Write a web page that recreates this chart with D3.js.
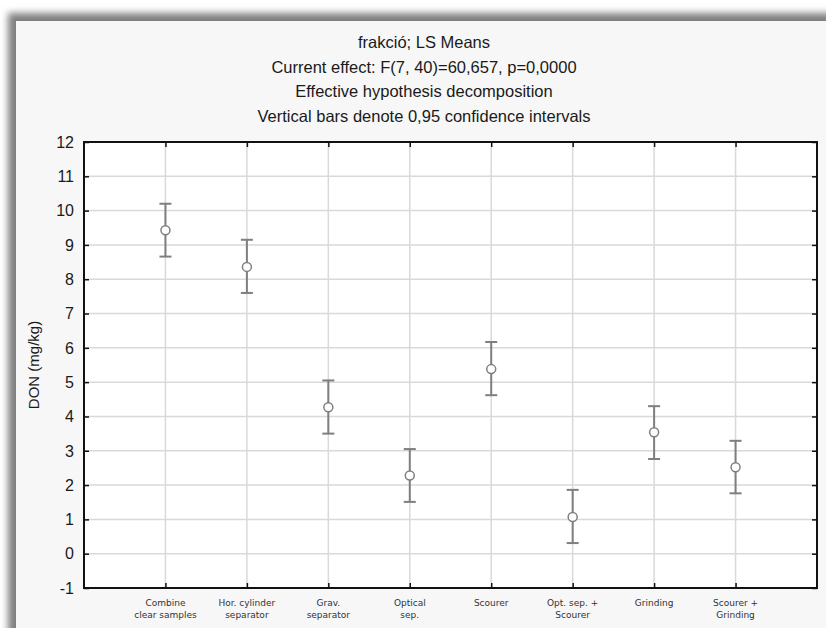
<!DOCTYPE html>
<html>
<head>
<meta charset="utf-8">
<script src="https://cdn.jsdelivr.net/npm/d3@7"></script>
<style>
body { margin: 0; background: #ffffff; }
svg { display: block; }
</style>
</head>
<body>
<svg id="chart"></svg>
<script>
// chart data
var categories = [
	["Combine", "clear samples"],
	["Hor. cylinder", "separator"],
	["Grav.", "separator"],
	["Optical", "sep."],
	["Scourer"],
	["Opt. sep. +", "Scourer"],
	["Grinding"],
	["Scourer +", "Grinding"]
]
var means = [9.43, 8.36, 4.27, 2.28, 5.38, 1.07, 3.54, 2.52]
var lower = [8.66, 7.6, 3.5, 1.51, 4.62, 0.31, 2.76, 1.76]
var upper = [10.2, 9.15, 5.05, 3.05, 6.17, 1.86, 4.3, 3.29]
var yTicks = [-1, 0, 1, 2, 3, 4, 5, 6, 7, 8, 9, 10, 11, 12]
var titleLines = [
	"frakció; LS Means",
	"Current effect: F(7, 40)=60,657, p=0,0000",
	"Effective hypothesis decomposition",
	"Vertical bars denote 0,95 confidence intervals"
]

var width = 826
var height = 628
var plot = { left: 84, right: 817, top: 142, bottom: 588 }

var svg = d3.select("#chart")
	.attr("width", width)
	.attr("height", height)

// panel with shadow on the top/left side
var defs = svg.append("defs")
var f = defs.append("filter").attr("id", "shadow")
	.attr("x", "-5%").attr("y", "-5%").attr("width", "110%").attr("height", "110%")
f.append("feGaussianBlur").attr("stdDeviation", 3.5)
svg.append("rect")
	.attr("x", 8).attr("y", 13)
	.attr("width", width).attr("height", height)
	.attr("fill", "#808080")
	.attr("filter", "url(#shadow)")
svg.append("rect")
	.attr("x", 16).attr("y", 21)
	.attr("width", width).attr("height", height)
	.attr("fill", "#f7f7f7")

// title
svg.append("g").selectAll("text").data(titleLines).enter().append("text")
	.attr("x", 424)
	.attr("y", (d, i) => 48 + i * 24.5)
	.attr("text-anchor", "middle")
	.attr("font-family", "Liberation Sans, Arial, sans-serif")
	.attr("font-size", "16.5px")
	.attr("fill", "#1a1a1a")
	.text(d => d)

var x = d3.scalePoint()
	.domain(d3.range(categories.length))
	.range([plot.left, plot.right])
	.padding(1)
var y = d3.scaleLinear()
	.domain([-1, 12])
	.range([plot.bottom, plot.top])

// plot area
svg.append("rect")
	.attr("x", plot.left).attr("y", plot.top)
	.attr("width", plot.right - plot.left)
	.attr("height", plot.bottom - plot.top)
	.attr("fill", "#ffffff")

// grid
var grid = svg.append("g")
	.attr("stroke", "#d9d9d9")
	.attr("stroke-width", 1.5)
grid.selectAll(".hg").data(yTicks.slice(1, -1)).enter().append("line")
	.attr("x1", plot.left).attr("x2", plot.right)
	.attr("y1", d => y(d)).attr("y2", d => y(d))
grid.selectAll(".vg").data(d3.range(categories.length)).enter().append("line")
	.attr("y1", plot.top).attr("y2", plot.bottom)
	.attr("x1", d => x(d)).attr("x2", d => x(d))

// axes, ticks inward
var axisFont = "Liberation Sans, Arial, sans-serif"
svg.append("g")
	.attr("transform", "translate(" + plot.left + ",0)")
	.call(d3.axisRight(y).tickValues(yTicks).tickSize(5).tickFormat(""))
svg.append("g")
	.attr("transform", "translate(" + plot.right + ",0)")
	.call(d3.axisLeft(y).tickValues(yTicks).tickSize(5).tickFormat(""))
svg.append("g")
	.attr("transform", "translate(0," + plot.bottom + ")")
	.call(d3.axisTop(x).tickSize(5).tickFormat(""))
svg.append("g")
	.attr("transform", "translate(0," + plot.top + ")")
	.call(d3.axisBottom(x).tickSize(5).tickFormat(""))
svg.selectAll(".domain").remove()
svg.selectAll(".tick line").attr("stroke", "#111").attr("stroke-width", 1.5)

svg.append("rect")
	.attr("x", plot.left).attr("y", plot.top)
	.attr("width", plot.right - plot.left)
	.attr("height", plot.bottom - plot.top)
	.attr("fill", "none")
	.attr("stroke", "#111")
	.attr("stroke-width", 2)

// y tick labels
svg.append("g").selectAll("text").data(yTicks).enter().append("text")
	.attr("x", 74)
	.attr("y", d => y(d))
	.attr("dy", "0.36em")
	.attr("text-anchor", "end")
	.attr("font-family", axisFont)
	.attr("font-size", "16px")
	.attr("fill", "#1a1a1a")
	.text(d => d)

// y axis title
svg.append("text")
	.attr("transform", "translate(39," + (plot.top + plot.bottom) / 2 + ") rotate(-90)")
	.attr("text-anchor", "middle")
	.attr("font-family", axisFont)
	.attr("font-size", "15px")
	.attr("fill", "#1a1a1a")
	.text("DON (mg/kg)")

// x category labels
var xl = svg.append("g").selectAll("text").data(categories).enter().append("text")
	.attr("x", (d, i) => x(i))
	.attr("y", 606)
	.attr("text-anchor", "middle")
	.attr("font-family", "DejaVu Sans, sans-serif")
	.attr("font-size", "9px")
	.attr("fill", "#333")
xl.selectAll("tspan").data(d => d).enter().append("tspan")
	.attr("x", function () { return d3.select(this.parentNode).attr("x") })
	.attr("dy", (d, i) => i === 0 ? 0 : 12)
	.text(d => d)

// error bars
var bars = svg.append("g")
	.attr("stroke", "#7f7f7f")
	.attr("stroke-width", 2)
	.attr("fill", "none")
var idx = d3.range(means.length)
bars.selectAll(".v").data(idx).enter().append("line")
	.attr("x1", i => x(i)).attr("x2", i => x(i))
	.attr("y1", i => y(upper[i])).attr("y2", i => y(lower[i]))
bars.selectAll(".cu").data(idx).enter().append("line")
	.attr("x1", i => x(i) - 6).attr("x2", i => x(i) + 6)
	.attr("y1", i => y(upper[i])).attr("y2", i => y(upper[i]))
bars.selectAll(".cl").data(idx).enter().append("line")
	.attr("x1", i => x(i) - 6).attr("x2", i => x(i) + 6)
	.attr("y1", i => y(lower[i])).attr("y2", i => y(lower[i]))
bars.selectAll("circle").data(idx).enter().append("circle")
	.attr("cx", i => x(i))
	.attr("cy", i => y(means[i]))
	.attr("r", 4.5)
	.attr("fill", "#ffffff")
	.attr("stroke-width", 1.5)
</script>
</body>
</html>
